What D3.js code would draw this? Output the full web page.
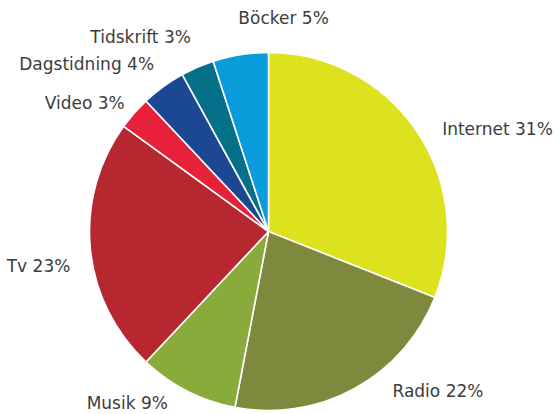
<!DOCTYPE html>
<html>
<head>
<meta charset="utf-8">
<script src="https://cdn.jsdelivr.net/npm/d3@7"></script>
<style>
  html, body { margin: 0; padding: 0; background: #fff; }
  svg { display: block; }
  text { font-family: "Century Gothic", "DejaVu Sans", sans-serif; fill: #3c3c3c; }
</style>
</head>
<body>
<svg id="chart" width="557" height="414"></svg>
<script>
// Media categories, clockwise from twelve o'clock
const categories = ["Internet", "Radio", "Musik", "Tv", "Video", "Dagstidning", "Tidskrift", "Böcker"];
const shares = [31, 22, 9, 23, 3, 4, 3, 5];
const colors = ["#dde21f", "#7f893e", "#89ab3c", "#b6272f", "#e8213b", "#1c4793", "#06708a", "#0a9bdb"];

// Label placement: text anchor side and small nudges from the label ring
const labelAnchor = ["start", "start", "end", "end", "end", "end", "end", "start"];
const labelNudge = [[14, 6], [31, -10], [-13, 0], [-6, 16], [1, -1], [-1, -11], [-1, -17], [0, -23]];

const width = 557, height = 414;
const cx = 268.5, cy = 231.5, radius = 179;

const svg = d3.select("#chart");
const g = svg.append("g").attr("transform", `translate(${cx},${cy})`);

const data = categories.map((c, i) => ({ name: c, value: shares[i], color: colors[i], i }));

const pie = d3.pie().value(d => d.value).sort(null);
const arc = d3.arc().innerRadius(0).outerRadius(radius);
const labelArc = d3.arc().innerRadius(radius + 14).outerRadius(radius + 14);

const arcs = pie(data);

g.selectAll("path.slice")
  .data(arcs)
  .join("path")
  .attr("class", "slice")
  .attr("d", arc)
  .attr("fill", d => d.data.color)
  .attr("stroke", "#ffffff")
  .attr("stroke-width", 1.6)
  .attr("stroke-linejoin", "round");

g.selectAll("text.label")
  .data(arcs)
  .join("text")
  .attr("class", "label")
  .attr("x", d => labelArc.centroid(d)[0] + labelNudge[d.data.i][0])
  .attr("y", d => labelArc.centroid(d)[1] + labelNudge[d.data.i][1])
  .attr("dy", "0.35em")
  .attr("text-anchor", d => labelAnchor[d.data.i])
  .attr("font-size", 17)
  .text(d => `${d.data.name} ${d.data.value}%`);
</script>
</body>
</html>
